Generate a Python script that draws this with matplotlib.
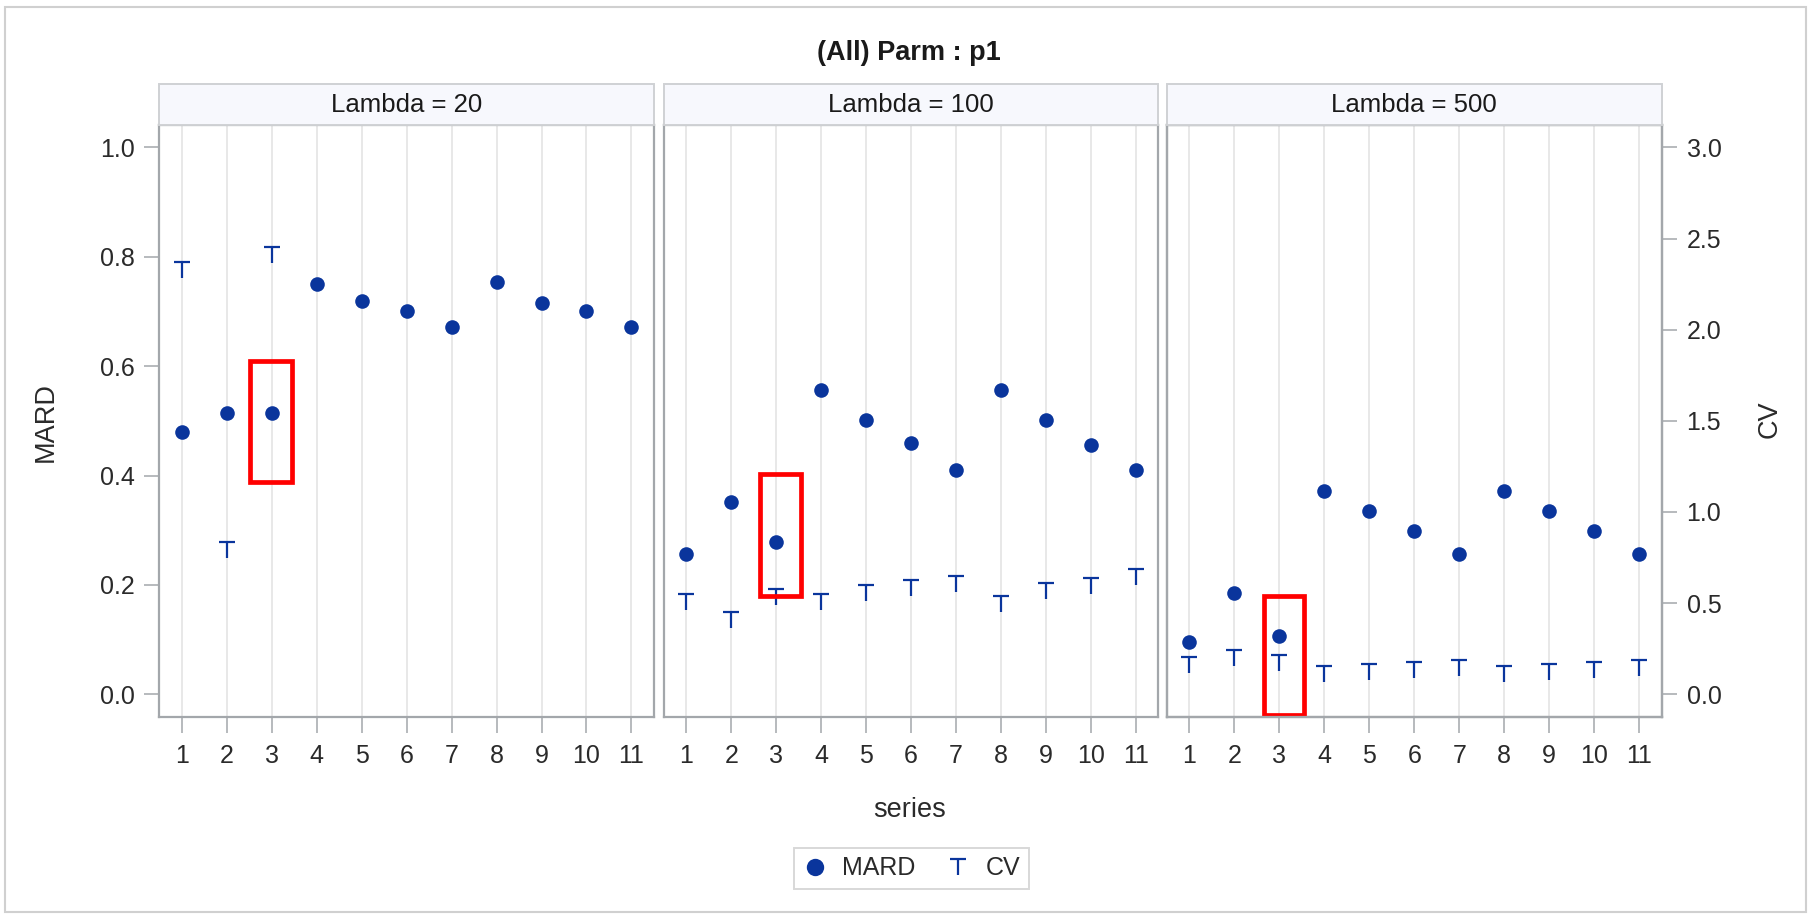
import numpy as np
import matplotlib
matplotlib.use("Agg")
import matplotlib.pyplot as plt
from matplotlib.path import Path
from matplotlib.patches import Rectangle
from matplotlib.lines import Line2D

plt.rcParams['font.family'] = ['Liberation Sans', 'DejaVu Sans']

# ---- data ----
series = list(range(1, 12))
lambdas = [20, 100, 500]

mard_l20 = [0.480, 0.514, 0.514, 0.751, 0.719, 0.700, 0.672, 0.754, 0.716, 0.700, 0.672]
mard_l100 = [0.257, 0.352, 0.278, 0.556, 0.501, 0.460, 0.410, 0.556, 0.501, 0.456, 0.410]
mard_l500 = [0.095, 0.186, 0.107, 0.372, 0.335, 0.298, 0.257, 0.372, 0.335, 0.298, 0.257]

cv_l20 = [2.33, 0.79, 2.41, np.nan, np.nan, np.nan, np.nan, np.nan, np.nan, np.nan, np.nan]
cv_l100 = [0.508, 0.407, 0.534, 0.508, 0.557, 0.584, 0.606, 0.494, 0.567, 0.594, 0.643]
cv_l500 = [0.159, 0.197, 0.173, 0.110, 0.121, 0.133, 0.145, 0.110, 0.121, 0.133, 0.145]

mard_sets = [mard_l20, mard_l100, mard_l500]
cv_sets = [cv_l20, cv_l100, cv_l500]

# highlighted boxes (x0, x1, y0, y1) in MARD units
highlight = [(2.51, 3.44, 0.388, 0.609),
             (2.65, 3.56, 0.180, 0.403),
             (2.66, 3.54, -0.038, 0.180)]

mard_ticks = [0.0, 0.2, 0.4, 0.6, 0.8, 1.0]
cv_ticks = [0.0, 0.5, 1.0, 1.5, 2.0, 2.5, 3.0]

# ---- style ----
W, H = 1816, 915
fig = plt.figure(figsize=(W / 100, H / 100), dpi=100)
blue = '#0A359C'
spine_c = '#A3A7AB'
grid_c = '#E4E4E4'
txt_c = '#2A2A2A'

tack = Path([(-0.5, 0.5), (0.5, 0.5), (0.0, 0.5), (0.0, -0.5)],
            [Path.MOVETO, Path.LINETO, Path.MOVETO, Path.LINETO])

y_lo, y_hi = -0.041, 1.041
ax_left = [159.4, 663.8, 1167.0]
ax_w = 494.5
ax_top, ax_bot = 125.0, 716.7
hdr_top = 84.0

def fx(px):
    return px / W

def fy(py):
    return 1 - py / H

# outer frame
fig.add_artist(Rectangle((fx(5), fy(911.5)), fx(1806) - fx(5), fy(6.5) - fy(911.5),
                         transform=fig.transFigure, fill=False,
                         edgecolor='#D0D0D0', linewidth=1.5))

fig.text(0.5006, fy(53), '(All) Parm : p1', ha='center', va='center',
         fontsize=19.5, fontweight='bold', color='#1A1A1A')

axes = []
for i, lam in enumerate(lambdas):
    ax = fig.add_axes([fx(ax_left[i]), fy(ax_bot), ax_w / W, (ax_bot - ax_top) / H])
    axes.append(ax)
    ax.set_xlim(0.5, 11.5)
    ax.set_ylim(y_lo, y_hi)
    ax.set_xticks(series)
    ax.set_xticklabels([str(s) for s in series])
    for x in series:
        ax.axvline(x, color=grid_c, linewidth=1.2, zorder=0)
    for s in ax.spines.values():
        s.set_color(spine_c)
        s.set_linewidth(1.6)
    ax.tick_params(axis='x', length=11.5, width=1.1, color=spine_c, pad=8,
                   labelsize=18, labelcolor=txt_c)
    ax.plot(series, mard_sets[i], linestyle='none', marker='o', markersize=10.5,
            color=blue, markeredgewidth=0, zorder=3)
    cv_scaled = [c / 3.0 for c in cv_sets[i]]
    ax.plot(series, cv_scaled, linestyle='none', marker=tack, markersize=11.5,
            markeredgecolor=blue, markerfacecolor='none', markeredgewidth=1.6, zorder=3)
    x0, x1, y0, y1 = highlight[i]
    ax.add_patch(Rectangle((x0, y0), x1 - x0, y1 - y0, fill=False,
                           edgecolor='#FF0000', linewidth=3.4, zorder=4, clip_on=False))
    if i == 0:
        ax.set_yticks(mard_ticks)
        ax.set_yticklabels([f'{v:.1f}' for v in mard_ticks])
        ax.tick_params(axis='y', length=11, width=1.1, color=spine_c, pad=7,
                       labelsize=18, labelcolor=txt_c)
    else:
        ax.set_yticks([])
    if i == 2:
        rax = ax.twinx()
        rax.set_ylim(y_lo * 3, y_hi * 3)
        rax.set_yticks(cv_ticks)
        rax.set_yticklabels([f'{v:.1f}' for v in cv_ticks])
        rax.tick_params(axis='y', length=11, width=1.1, color=spine_c, pad=7,
                        labelsize=18, labelcolor=txt_c)
        for s in rax.spines.values():
            s.set_color(spine_c)
            s.set_linewidth(1.6)
    # panel header strip
    fig.add_artist(Rectangle((fx(ax_left[i]), fy(ax_top)), ax_w / W, fy(hdr_top) - fy(ax_top),
                             transform=fig.transFigure, facecolor='#F7F8FD',
                             edgecolor='#CFD1D4', linewidth=1.4))
    fig.text(fx(ax_left[i] + ax_w / 2), fy(104.5), f'Lambda = {lam}', ha='center',
             va='center', fontsize=18.5, color='#1A1A1A')

fig.text(fx(45.5), fy(421.7), 'MARD', rotation=90, ha='center', va='center',
         fontsize=19.5, color=txt_c)
fig.text(fx(1770), fy(419), 'CV', rotation=90, ha='center', va='center',
         fontsize=19.5, color=txt_c)
fig.text(fx(910), fy(810), 'series', ha='center', va='center',
         fontsize=19.5, color=txt_c)

handles = [
    Line2D([], [], linestyle='none', marker='o', markersize=12.5, color=blue,
           markeredgewidth=0, label='MARD'),
    Line2D([], [], linestyle='none', marker=tack, markersize=12, markeredgecolor=blue,
           markerfacecolor='none', markeredgewidth=1.6, label='CV'),
]
leg = fig.legend(handles=handles, loc='center', bbox_to_anchor=(fx(911.5), fy(868.3)),
                 ncol=2, frameon=True, fancybox=False, fontsize=18,
                 handlelength=1.0, handletextpad=0.6, columnspacing=1.2,
                 borderpad=0.35, edgecolor='#CFCFCF')
leg.get_frame().set_linewidth(1.4)
for t in leg.get_texts():
    t.set_color(txt_c)

fig.savefig('out.png', dpi=100, facecolor='white')
